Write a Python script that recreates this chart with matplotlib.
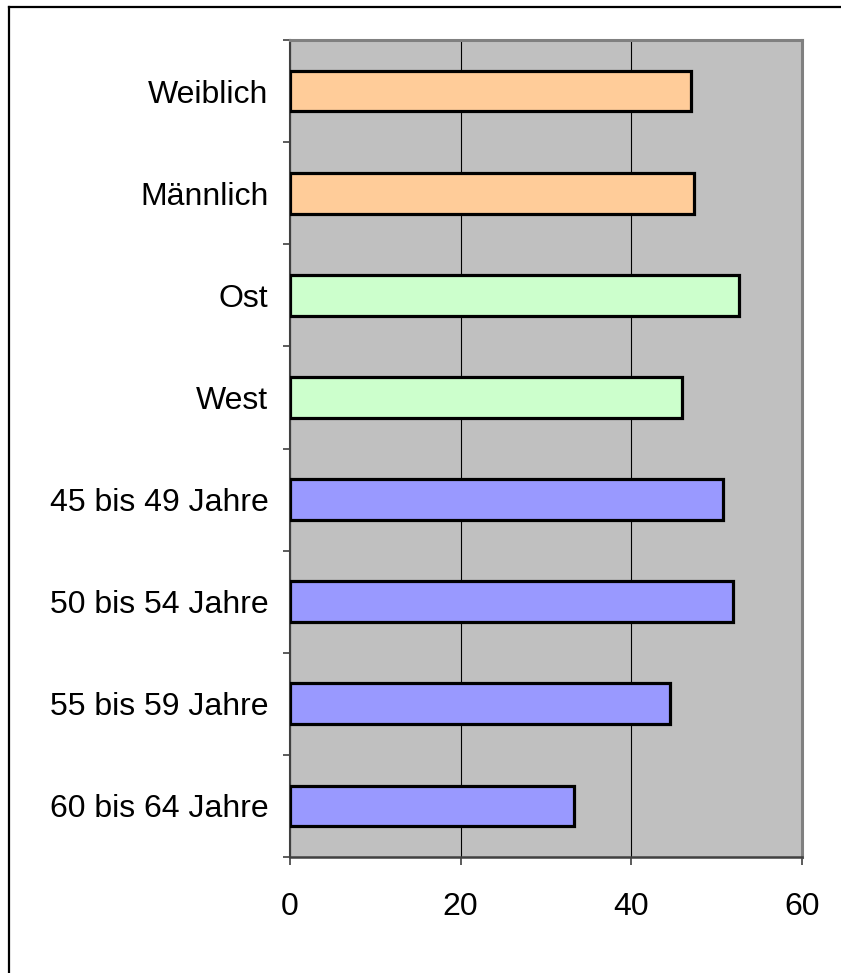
import matplotlib
matplotlib.use('Agg')
import matplotlib.pyplot as plt
from matplotlib.lines import Line2D

categories = ['Weiblich', 'Männlich', 'Ost', 'West',
              '45 bis 49 Jahre', '50 bis 54 Jahre', '55 bis 59 Jahre', '60 bis 64 Jahre']
values = [47.0, 47.3, 52.6, 45.9, 50.8, 51.9, 44.5, 33.3]
colors = ['#FFCC99', '#FFCC99', '#CCFFCC', '#CCFFCC',
          '#9999FF', '#9999FF', '#9999FF', '#9999FF']
xticks = [0, 20, 40, 60]

plt.rcParams['font.family'] = ['Liberation Sans', 'DejaVu Sans']

fig = plt.figure(figsize=(8.41, 9.73), dpi=100)
ax = fig.add_axes([290/841, 1-857/973, (802-290)/841, (857-40)/973])
ax.set_facecolor('#C0C0C0')

ypos = list(range(len(categories)))
ax.barh(ypos, values, height=0.4, color=colors, edgecolor='black', linewidth=2.3, zorder=3)

ax.set_xlim(0, 60)
ax.set_ylim(len(categories)-0.5, -0.5)
ax.set_xticks(xticks)
ax.set_xticklabels([str(v) for v in xticks], fontsize=23)
ax.xaxis.grid(True, color='black', linewidth=0.8)
ax.set_axisbelow(True)

# category labels between boundary ticks
ax.set_yticks([y - 0.5 for y in ypos] + [len(categories) - 0.5])
ax.set_yticklabels([])
ax.set_yticks(ypos, minor=True)
ax.set_yticklabels(categories, minor=True, fontsize=23)
ax.tick_params(axis='y', which='minor', length=0, pad=15.5)
ax.tick_params(axis='y', which='major', length=5, width=1.2, color='#404040')
ax.tick_params(axis='x', length=6, width=1.2, color='#404040', pad=19)

ax.spines['top'].set_color('#808080')
ax.spines['right'].set_color('#808080')
ax.spines['top'].set_linewidth(2.2)
ax.spines['right'].set_linewidth(2.2)
ax.spines['left'].set_color('#404040')
ax.spines['bottom'].set_color('#404040')
ax.spines['left'].set_linewidth(1.5)
ax.spines['bottom'].set_linewidth(1.8)

# outer frame (top and left edge visible)
fig.add_artist(Line2D([9/841, 9/841], [0, 1-7/973], color='black', linewidth=1.6))
fig.add_artist(Line2D([9/841, 1], [1-7/973, 1-7/973], color='black', linewidth=1.6))

fig.savefig('out.png', dpi=100)
